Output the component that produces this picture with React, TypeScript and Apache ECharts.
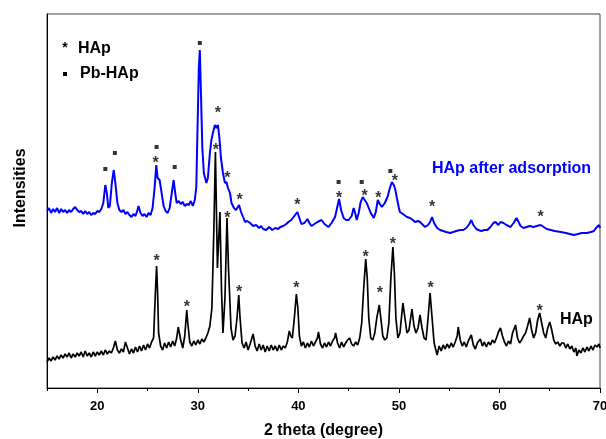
import React, { useEffect, useRef } from "react";
import * as echarts from "echarts";

// 2-theta tick values
const xMajorTicks = [20, 30, 40, 50, 60, 70];
const xMinorTicks = [15, 25, 35, 45, 55, 65];

// HAp (black) pattern: [2theta, intensity a.u.]
const hapPattern: [number, number][] = [
  [15.0, 26], [15.2, 30], [15.4, 27], [15.6, 31], [15.8, 28], [16.0, 32], [16.2, 29], [16.4, 33], [16.6, 30], [16.8, 34],
  [17.0, 31], [17.2, 35], [17.4, 30], [17.6, 34], [17.8, 31], [18.0, 35], [18.2, 32], [18.4, 36], [18.6, 31], [18.8, 37],
  [19.0, 32], [19.2, 35], [19.4, 31], [19.6, 36], [19.8, 32], [20.0, 36], [20.2, 33], [20.4, 37], [20.6, 33], [20.8, 38],
  [21.0, 34], [21.2, 37], [21.4, 35], [21.6, 40], [21.8, 47], [22.0, 38], [22.2, 35], [22.4, 39], [22.6, 36], [22.8, 46],
  [23.0, 40], [23.2, 34], [23.4, 39], [23.6, 35], [23.8, 41], [24.0, 36], [24.2, 42], [24.4, 37], [24.6, 43], [24.8, 38],
  [25.0, 44], [25.2, 40], [25.4, 46], [25.6, 50], [25.8, 100], [25.9, 122], [26.0, 95], [26.1, 55], [26.3, 42], [26.5, 38],
  [26.7, 45], [26.9, 40], [27.1, 46], [27.3, 41], [27.5, 47], [27.7, 42], [27.9, 50], [28.05, 61], [28.3, 48], [28.5, 40],
  [28.7, 52], [28.9, 78], [29.0, 65], [29.2, 46], [29.4, 42], [29.6, 47], [29.8, 43], [30.0, 48], [30.2, 44], [30.4, 49],
  [30.6, 46], [30.8, 50], [31.0, 55], [31.2, 62], [31.4, 80], [31.6, 160], [31.75, 236], [31.95, 120], [32.2, 176], [32.35, 100],
  [32.5, 55], [32.7, 90], [32.9, 170], [33.05, 120], [33.3, 60], [33.5, 48], [33.7, 52], [33.9, 70], [34.07, 93], [34.2, 70],
  [34.4, 45], [34.6, 40], [34.8, 46], [35.0, 38], [35.2, 44], [35.5, 54], [35.7, 42], [35.9, 37], [36.1, 44], [36.3, 38],
  [36.5, 43], [36.7, 36], [36.9, 42], [37.1, 37], [37.3, 43], [37.5, 38], [37.7, 42], [37.9, 37], [38.1, 43], [38.3, 38],
  [38.5, 42], [38.7, 40], [38.9, 46], [39.1, 57], [39.25, 52], [39.4, 50], [39.6, 70], [39.8, 94], [39.95, 80], [40.1, 52],
  [40.3, 42], [40.5, 46], [40.7, 40], [40.9, 45], [41.1, 41], [41.3, 47], [41.5, 42], [41.7, 46], [41.9, 50], [42.0, 56],
  [42.2, 44], [42.4, 40], [42.6, 45], [42.8, 41], [43.0, 46], [43.2, 42], [43.4, 47], [43.6, 50], [43.7, 55], [43.9, 45],
  [44.1, 40], [44.3, 46], [44.5, 41], [44.7, 45], [44.9, 48], [45.1, 50], [45.3, 44], [45.5, 42], [45.7, 46], [45.9, 43],
  [46.1, 50], [46.3, 65], [46.5, 100], [46.7, 129], [46.85, 110], [47.0, 70], [47.2, 50], [47.4, 48], [47.6, 55], [47.8, 70],
  [48.05, 83], [48.2, 70], [48.4, 52], [48.6, 48], [48.8, 50], [49.0, 65], [49.2, 110], [49.4, 141], [49.55, 115], [49.7, 70],
  [49.9, 50], [50.1, 55], [50.4, 85], [50.6, 70], [50.8, 55], [51.0, 58], [51.3, 79], [51.5, 62], [51.7, 55], [51.9, 60],
  [52.1, 73], [52.3, 60], [52.5, 50], [52.7, 48], [52.9, 70], [53.1, 95], [53.3, 70], [53.5, 45], [53.8, 33], [54.0, 42],
  [54.2, 37], [54.4, 43], [54.6, 39], [54.8, 44], [55.0, 40], [55.2, 45], [55.4, 41], [55.6, 46], [55.8, 52], [55.9, 61],
  [56.1, 48], [56.3, 42], [56.5, 46], [56.7, 41], [56.9, 47], [57.2, 53], [57.4, 43], [57.6, 39], [57.8, 45], [58.1, 49],
  [58.3, 42], [58.5, 46], [58.7, 41], [58.9, 46], [59.1, 43], [59.3, 48], [59.5, 45], [59.7, 50], [59.9, 56], [60.1, 60],
  [60.3, 52], [60.5, 46], [60.7, 42], [60.9, 47], [61.1, 44], [61.3, 55], [61.6, 63], [61.8, 50], [62.0, 45], [62.2, 48],
  [62.4, 52], [62.6, 55], [62.8, 62], [63.0, 70], [63.2, 58], [63.4, 50], [63.6, 55], [63.8, 68], [64.0, 75], [64.2, 65],
  [64.4, 55], [64.6, 50], [64.8, 60], [65.0, 66], [65.2, 58], [65.4, 48], [65.6, 44], [65.8, 46], [66.0, 42], [66.2, 45],
  [66.4, 45], [66.6, 40], [66.8, 44], [67.0, 39], [67.2, 42], [67.4, 36], [67.6, 40], [67.7, 32], [67.9, 38], [68.1, 35],
  [68.3, 40], [68.5, 36], [68.7, 41], [68.9, 37], [69.1, 42], [69.3, 38], [69.5, 43], [69.7, 41], [69.9, 44], [70.0, 40],
];

// HAp after adsorption (blue) pattern: [2theta, intensity a.u.]
const adsorbedPattern: [number, number][] = [
  [15.0, 177], [15.2, 180], [15.4, 175], [15.6, 179], [15.8, 176], [16.0, 180], [16.2, 175], [16.4, 179], [16.6, 176], [16.8, 178],
  [17.0, 175], [17.2, 178], [17.4, 176], [17.6, 179], [17.8, 181], [18.0, 178], [18.2, 176], [18.4, 177], [18.6, 174], [18.8, 177],
  [19.0, 174], [19.2, 176], [19.4, 173], [19.6, 175], [19.8, 174], [20.0, 177], [20.2, 176], [20.4, 179], [20.6, 185], [20.8, 203],
  [20.95, 195], [21.1, 180], [21.25, 182], [21.45, 205], [21.64, 218], [21.8, 205], [22.0, 185], [22.2, 178], [22.4, 176], [22.6, 178],
  [22.8, 174], [23.0, 176], [23.2, 173], [23.4, 171], [23.6, 174], [23.8, 172], [24.0, 178], [24.1, 182], [24.3, 175], [24.5, 172],
  [24.7, 174], [24.9, 171], [25.1, 175], [25.3, 173], [25.5, 180], [25.7, 200], [25.87, 223], [26.0, 210], [26.2, 208], [26.4, 195],
  [26.6, 182], [26.8, 177], [27.0, 175], [27.2, 180], [27.45, 198], [27.6, 208], [27.75, 195], [27.9, 185], [28.1, 187], [28.3, 184],
  [28.5, 186], [28.7, 182], [28.9, 184], [29.1, 183], [29.3, 187], [29.5, 182], [29.7, 188], [29.85, 201], [29.95, 250], [30.1, 320],
  [30.2, 338], [30.3, 300], [30.45, 240], [30.6, 215], [30.85, 205], [31.0, 210], [31.2, 235], [31.35, 248], [31.5, 255], [31.7, 263],
  [31.85, 260], [32.0, 263], [32.15, 250], [32.3, 230], [32.5, 215], [32.7, 205], [32.85, 206], [33.0, 200], [33.2, 195], [33.35, 185],
  [33.6, 180], [33.8, 178], [34.1, 183], [34.3, 176], [34.5, 171], [34.7, 166], [34.9, 167], [35.2, 165], [35.5, 162], [35.8, 163],
  [36.1, 160], [36.3, 162], [36.5, 159], [36.8, 158], [37.1, 161], [37.4, 158], [37.7, 160], [38.0, 159], [38.2, 161], [38.5, 162],
  [38.8, 164], [39.0, 166], [39.3, 168], [39.6, 172], [39.9, 176], [40.1, 170], [40.3, 164], [40.6, 165], [40.9, 169], [41.1, 165],
  [41.3, 162], [41.6, 164], [41.9, 166], [42.3, 168], [42.6, 164], [43.0, 161], [43.3, 165], [43.65, 171], [43.85, 180], [44.05, 189],
  [44.25, 178], [44.5, 170], [44.75, 168], [45.0, 168], [45.3, 172], [45.5, 180], [45.65, 175], [45.8, 168], [46.0, 175], [46.2, 186],
  [46.4, 191], [46.6, 188], [46.8, 185], [47.0, 180], [47.2, 175], [47.5, 170], [47.7, 176], [47.9, 188], [48.1, 184], [48.3, 181],
  [48.6, 185], [48.9, 192], [49.1, 200], [49.3, 206], [49.5, 203], [49.65, 198], [49.8, 190], [50.0, 180], [50.1, 176], [50.4, 174],
  [50.8, 171], [51.1, 170], [51.4, 168], [51.6, 166], [51.9, 167], [52.1, 166], [52.4, 163], [52.6, 161], [52.9, 163], [53.1, 166],
  [53.3, 171], [53.5, 165], [53.8, 160], [54.1, 158], [54.4, 157], [54.7, 156], [55.1, 155], [55.4, 156], [55.7, 157], [56.1, 158],
  [56.4, 158], [56.7, 160], [57.0, 164], [57.2, 168], [57.4, 163], [57.7, 159], [57.9, 158], [58.2, 157], [58.5, 158], [58.8, 158],
  [59.1, 161], [59.4, 165], [59.6, 166], [59.9, 163], [60.1, 166], [60.4, 165], [60.7, 163], [61.1, 161], [61.4, 165], [61.7, 170],
  [61.9, 166], [62.1, 162], [62.4, 160], [62.7, 161], [63.0, 162], [63.4, 161], [63.7, 162], [64.1, 163], [64.4, 161], [64.7, 159],
  [65.1, 158], [65.5, 157], [66.1, 156], [66.6, 155], [67.0, 154], [67.4, 153], [67.8, 154], [68.2, 155], [68.7, 155], [69.1, 156],
  [69.4, 157], [69.6, 160], [69.9, 163], [70.0, 160],
];

// Peak markers: HAp (*) and Pb-HAp (square)
const hapStarsOnHap: [number, number][] = [
  [25.9, 132], [28.9, 86], [31.8, 243], [32.95, 175], [34.1, 101], [39.8, 105],
  [46.7, 136], [48.1, 100], [49.4, 149], [53.15, 105], [64.0, 82],
];
const hapStarsOnAdsorbed: [number, number][] = [
  [25.8, 230], [32.0, 280], [32.95, 215], [34.15, 193], [39.9, 188], [44.05, 195],
  [46.6, 197], [47.95, 195], [49.6, 212], [53.3, 186], [64.1, 176],
];
const pbHapSquares: [number, number][] = [
  [20.8, 219], [21.75, 235], [25.9, 241], [27.7, 221], [30.2, 345], [44.0, 206], [46.3, 206], [49.15, 217],
];

const FONT = "'Liberation Sans', Arial, sans-serif";
const BLUE = "#0000ff";

export default function App() {
  const ref = useRef<HTMLDivElement>(null);
  useEffect(() => {
    if (!ref.current) return;
    const chart = echarts.init(ref.current, null, { renderer: "svg" });
    const starLabel = {
      show: true,
      position: "inside",
      formatter: "*",
      fontSize: 16,
      fontWeight: "bold",
      fontFamily: FONT,
      color: "#000",
      offset: [0, 4],
    };
    chart.setOption({
      animation: false,
      grid: {
        left: 47, right: 6, top: 14, bottom: 51,
        containLabel: false, outerBoundsMode: "none",
        show: true, borderColor: "#444", borderWidth: 1, backgroundColor: "transparent",
      },
      xAxis: [
        {
          type: "value",
          min: 15,
          max: 70,
          position: "bottom",
          axisLine: { show: true, onZero: false, lineStyle: { color: "#000", width: 1 } },
          axisTick: { show: true, customValues: xMajorTicks, length: 5, lineStyle: { color: "#000" } },
          axisLabel: { customValues: xMajorTicks, margin: 11, fontSize: 13, fontWeight: "bold", color: "#000", fontFamily: FONT },
          splitLine: { show: false },
          name: "2 theta (degree)",
          nameLocation: "middle",
          nameGap: 33,
          nameTextStyle: { fontSize: 16, fontWeight: "bold", color: "#000", fontFamily: FONT },
        },
        {
          type: "value",
          min: 15,
          max: 70,
          position: "bottom",
          axisLine: { show: false, onZero: false },
          axisTick: { show: true, customValues: xMinorTicks, length: 3, lineStyle: { color: "#000" } },
          axisLabel: { show: false },
          splitLine: { show: false },
        },
      ],
      yAxis: {
        type: "value",
        min: 0,
        max: 374,
        axisLine: { show: true, onZero: false, lineStyle: { color: "#000", width: 1 } },
        axisTick: { show: false },
        axisLabel: { show: false },
        splitLine: { show: false },
      },
      series: [
        {
          name: "HAp after adsorption",
          type: "line",
          data: adsorbedPattern,
          showSymbol: false,
          symbol: "none",
          lineStyle: { color: BLUE, width: 2 },
          z: 2,
        },
        {
          name: "HAp",
          type: "line",
          data: hapPattern,
          showSymbol: false,
          symbol: "none",
          lineStyle: { color: "#000", width: 1.7 },
          z: 3,
        },
        {
          type: "scatter",
          data: [...hapStarsOnHap, ...hapStarsOnAdsorbed],
          symbolSize: 1,
          itemStyle: { color: "rgba(0,0,0,0)" },
          label: starLabel,
          z: 5,
        },
        {
          type: "scatter",
          data: pbHapSquares,
          symbol: "rect",
          symbolSize: 4,
          itemStyle: { color: "#000" },
          z: 5,
        },
      ],
      graphic: [
        { type: "text", x: 65, y: 47, style: { text: "*", font: `bold 14px ${FONT}`, fill: "#000", align: "center", verticalAlign: "middle" } },
        { type: "text", x: 78, y: 47, style: { text: "HAp", font: `bold 16px ${FONT}`, fill: "#000", align: "left", verticalAlign: "middle" } },
        { type: "rect", shape: { x: 63, y: 72, width: 4, height: 4 }, style: { fill: "#000" } },
        { type: "text", x: 80, y: 72, style: { text: "Pb-HAp", font: `bold 16px ${FONT}`, fill: "#000", align: "left", verticalAlign: "middle" } },
        { type: "text", x: 432, y: 167, style: { text: "HAp after adsorption", font: `bold 16px ${FONT}`, fill: BLUE, align: "left", verticalAlign: "middle" } },
        { type: "text", x: 560, y: 318, style: { text: "HAp", font: `bold 16px ${FONT}`, fill: "#000", align: "left", verticalAlign: "middle" } },
        { type: "text", x: 19, y: 188, rotation: Math.PI / 2, style: { text: "Intensities", font: `bold 16px ${FONT}`, fill: "#000", align: "center", verticalAlign: "middle" } },
      ],
    });
    return () => chart.dispose();
  }, []);
  return <div ref={ref} style={{ position: "fixed", left: 0, top: 0, width: 606, height: 439 }} />;
}
